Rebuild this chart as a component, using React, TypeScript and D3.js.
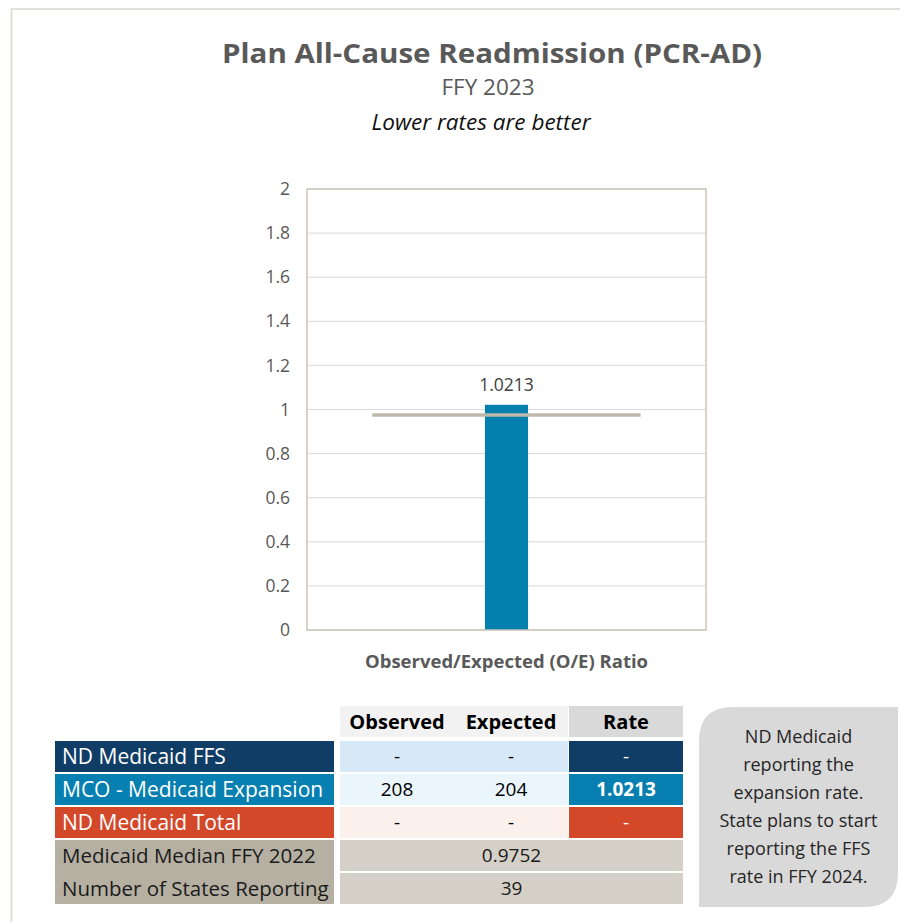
import React from 'react';
import * as d3 from 'd3';

// chart data
const categories = ['Observed/Expected (O/E) Ratio'];
const rateValues = [1.0213];
const medianValues = [0.9752];
const yDomain = [0, 2];

// table data
const rowLabels = ['ND Medicaid FFS', 'MCO - Medicaid Expansion', 'ND Medicaid Total'];
const observedVals = ['-', '208', '-'];
const expectedVals = ['-', '204', '-'];
const rateVals = ['-', '1.0213', '-'];
const headerLabels = ['Observed', 'Expected', 'Rate'];
const footerLabels = ['Medicaid Median FFY 2022', 'Number of States Reporting'];
const footerVals = ['0.9752', '39'];
const noteLines = [
  'ND Medicaid',
  'reporting the',
  'expansion rate.',
  'State plans to start',
  'reporting the FFS',
  'rate in FFY 2024.',
];

const labelColors = ['#0f3d66', '#077fb0', '#d4482a'];
const valueColors = ['#d7e9f7', '#eaf6fc', '#fcf0ec'];

const FONT = '"Segoe UI", "Open Sans", sans-serif';

export default function App() {
  const width = 900;
  const height = 922;

  // plot area
  const plot = { left: 307, right: 706, top: 189, bottom: 630 };

  const x = d3.scaleBand()
    .domain(categories)
    .range([plot.left, plot.right])
    .padding(0.805);

  const xMedian = d3.scaleBand()
    .domain(categories)
    .range([plot.left, plot.right])
    .padding(0.196);

  const y = d3.scaleLinear()
    .domain(yDomain)
    .range([plot.bottom, plot.top]);

  const ticks = y.ticks(10);
  const fmt = d3.format('~g');

  // table layout
  const cols = { label: [55, 334], obs: [340, 454], exp: [454, 568], rate: [569, 683] };
  const headerTop = 706;
  const rowH = 31;
  const rowStep = 33;
  const bodyTop = 741;
  const rowY = (i: number) => bodyTop + i * rowStep;
  const mid = (c: number[]) => (c[0] + c[1]) / 2;

  const note = { x0: 699, x1: 898, y0: 707, y1: 907, r: 34 };
  const notePath = `M${note.x0},${note.y0 + note.r}
    Q${note.x0},${note.y0} ${note.x0 + note.r},${note.y0}
    L${note.x1},${note.y0}
    L${note.x1},${note.y1 - note.r}
    Q${note.x1},${note.y1} ${note.x1 - note.r},${note.y1}
    L${note.x0},${note.y1} Z`;

  return (
    <svg
      width={width}
      height={height}
      style={{ position: 'absolute', left: 0, top: 0, background: '#fff' }}
      fontFamily={FONT}
    >
      {/* outer frame */}
      <rect x={11.5} y={9} width={1000} height={1000} fill="none" stroke="#e2dfda" strokeWidth={2} />

      {/* titles */}
      <text x={492} y={63} textAnchor="middle" fontSize={26} fontWeight="bold" fill="#595959"
        textLength={540} lengthAdjust="spacingAndGlyphs">
        Plan All-Cause Readmission (PCR-AD)
      </text>
      <text x={488} y={95} textAnchor="middle" fontSize={22.5} fill="#595959">
        FFY 2023
      </text>
      <text x={481} y={130} textAnchor="middle" fontSize={22.5} fontStyle="italic" fill="#111">
        Lower rates are better
      </text>

      {/* gridlines */}
      {ticks.map(t => (
        <line key={t} x1={plot.left} x2={plot.right} y1={y(t)} y2={y(t)} stroke="#d9d9d9" strokeWidth={1} />
      ))}
      {ticks.map(t => (
        <text key={'l' + t} x={290} y={y(t)} dy="0.35em" textAnchor="end" fontSize={17.5} fill="#595959">
          {fmt(t)}
        </text>
      ))}

      {/* bars */}
      {categories.map((c, i) => (
        <rect
          key={c}
          x={x(c)!}
          y={y(rateValues[i])}
          width={x.bandwidth()}
          height={y(0) - y(rateValues[i])}
          fill="#037fad"
        />
      ))}
      {categories.map((c, i) => (
        <text key={'v' + c} x={x(c)! + x.bandwidth() / 2} y={y(rateValues[i]) - 14} textAnchor="middle" fontSize={17.5} fill="#404040">
          {rateValues[i].toFixed(4)}
        </text>
      ))}

      {/* median line */}
      {categories.map((c, i) => (
        <line
          key={'m' + c}
          x1={xMedian(c)!}
          x2={xMedian(c)! + xMedian.bandwidth()}
          y1={y(medianValues[i])}
          y2={y(medianValues[i])}
          stroke="#bdb8aa"
          strokeWidth={3.5}
        />
      ))}

      {/* plot border */}
      <rect
        x={plot.left}
        y={plot.top}
        width={plot.right - plot.left}
        height={plot.bottom - plot.top}
        fill="none"
        stroke="#cbc6ba"
        strokeWidth={1.5}
      />

      {/* x label */}
      {categories.map(c => (
        <text key={'x' + c} x={x(c)! + x.bandwidth() / 2} y={668} textAnchor="middle" fontSize={18.5} fontWeight="bold" fill="#595959">
          {c}
        </text>
      ))}

      {/* table header */}
      <rect x={cols.obs[0]} y={headerTop} width={cols.exp[1] - cols.obs[0]} height={rowH} fill="#f2f2f2" />
      <rect x={cols.rate[0]} y={headerTop} width={cols.rate[1] - cols.rate[0]} height={rowH} fill="#d9d9d9" />
      {[cols.obs, cols.exp, cols.rate].map((c, i) => (
        <text key={headerLabels[i]} x={mid(c)} y={headerTop + rowH / 2} dy="0.35em" textAnchor="middle" fontSize={20} fontWeight="bold" fill="#000">
          {headerLabels[i]}
        </text>
      ))}

      {/* table body rows */}
      {rowLabels.map((lab, i) => (
        <g key={lab}>
          <rect x={cols.label[0]} y={rowY(i)} width={cols.label[1] - cols.label[0]} height={rowH} fill={labelColors[i]} />
          <rect x={cols.obs[0]} y={rowY(i)} width={cols.exp[1] - cols.obs[0]} height={rowH} fill={valueColors[i]} />
          <rect x={cols.rate[0]} y={rowY(i)} width={cols.rate[1] - cols.rate[0]} height={rowH} fill={labelColors[i]} />
          <text x={cols.label[0] + 7} y={rowY(i) + rowH / 2} dy="0.35em" fontSize={21} fill="#fff">
            {lab}
          </text>
          <text x={mid(cols.obs)} y={rowY(i) + rowH / 2} dy="0.35em" textAnchor="middle" fontSize={19} fill="#000">
            {observedVals[i]}
          </text>
          <text x={mid(cols.exp)} y={rowY(i) + rowH / 2} dy="0.35em" textAnchor="middle" fontSize={19} fill="#000">
            {expectedVals[i]}
          </text>
          <text
            x={mid(cols.rate)}
            y={rowY(i) + rowH / 2}
            dy="0.35em"
            textAnchor="middle"
            fontSize={19}
            fontWeight={rateVals[i] === '-' ? 'normal' : 'bold'}
            fill="#fff"
          >
            {rateVals[i]}
          </text>
        </g>
      ))}

      {/* footer rows */}
      <rect
        x={cols.label[0]}
        y={rowY(rowLabels.length)}
        width={cols.label[1] - cols.label[0]}
        height={rowStep * footerLabels.length - 2}
        fill="#b6b0a3"
      />
      {footerLabels.map((lab, j) => {
        const i = rowLabels.length + j;
        return (
          <g key={lab}>
            <rect x={cols.obs[0]} y={rowY(i)} width={cols.rate[1] - cols.obs[0]} height={rowH} fill="#d4d0c7" />
            <text x={cols.label[0] + 7} y={rowY(i) + rowH / 2} dy="0.35em" fontSize={20.5} fill="#1a1a1a">
              {lab}
            </text>
            <text x={(cols.obs[0] + cols.rate[1]) / 2} y={rowY(i) + rowH / 2} dy="0.35em" textAnchor="middle" fontSize={19} fill="#1a1a1a">
              {footerVals[j]}
            </text>
          </g>
        );
      })}

      {/* note box */}
      <path d={notePath} fill="#d9d9d9" />
      {noteLines.map((ln, i) => (
        <text key={ln} x={(note.x0 + note.x1) / 2} y={743 + i * 28} textAnchor="middle" fontSize={18} fill="#262626">
          {ln}
        </text>
      ))}
    </svg>
  );
}
